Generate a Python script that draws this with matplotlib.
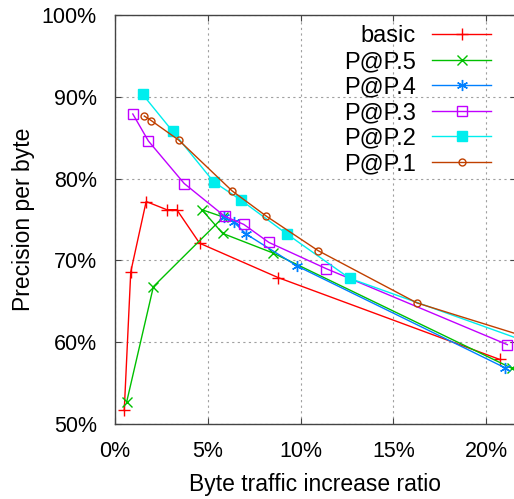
import matplotlib
matplotlib.use('Agg')
import matplotlib.pyplot as plt
from matplotlib.ticker import FuncFormatter

plt.rcParams['font.family'] = ['Liberation Sans', 'DejaVu Sans']

# data (x: byte traffic increase %, y: precision per byte %)
basic_x = [0.50, 0.85, 1.68, 2.79, 3.33, 4.56, 8.79, 20.72]
basic_y = [51.7, 68.6, 77.2, 76.2, 76.2, 72.1, 67.9, 57.9]

pp5_x = [0.63, 2.07, 5.84, 4.68, 5.80, 8.52, 21.39]
pp5_y = [52.7, 66.8, 75.3, 76.2, 73.3, 70.9, 56.8]

pp4_x = [5.85, 6.39, 7.08, 9.82, 20.99]
pp4_y = [75.3, 74.7, 73.2, 69.3, 56.9]

pp3_x = [0.96, 1.80, 3.73, 5.91, 6.94, 8.29, 11.37, 21.14]
pp3_y = [87.9, 84.6, 79.4, 75.4, 74.4, 72.2, 69.0, 59.7]

pp2_x = [1.49, 3.10, 5.32, 6.77, 9.28, 12.65, 22.5]
pp2_y = [90.3, 85.8, 79.6, 77.4, 73.2, 67.8, 59.8]

pp1_x = [1.58, 1.95, 3.44, 6.31, 8.16, 10.94, 16.27, 22.5]
pp1_y = [87.65, 87.1, 84.7, 78.5, 75.4, 71.2, 64.8, 60.4]

x_ticks = [0, 5, 10, 15, 20]
y_ticks = [50, 60, 70, 80, 90, 100]

series = [
    ('basic', basic_x, basic_y, '#ff0000', dict(marker='+', ms=8)),
    ('P@P.5', pp5_x, pp5_y, '#00c000', dict(marker='x', ms=7)),
    ('P@P.4', pp4_x, pp4_y, '#0080ff', dict(marker=(6, 2, 0), ms=8)),
    ('P@P.3', pp3_x, pp3_y, '#c000ff', dict(marker='s', ms=7, mfc='none')),
    ('P@P.2', pp2_x, pp2_y, '#00eeee', dict(marker='s', ms=7)),
    ('P@P.1', pp1_x, pp1_y, '#c04000', dict(marker='o', ms=5, mfc='none')),
]

fig = plt.figure(figsize=(5.14, 4.99), dpi=100)
ax = fig.add_axes([0.2237, 0.1503, 0.78, 0.8196])

for name, xs, ys, col, mk in series:
    ax.plot(xs, ys, color=col, lw=1, label=name, mec=col, mew=1, **mk)

ax.set_xlim(0, 21.6)
ax.set_ylim(50, 100)
ax.set_xticks(x_ticks)
ax.set_yticks(y_ticks)
ax.xaxis.set_major_formatter(FuncFormatter(lambda v, p: '%d%%' % v))
ax.yaxis.set_major_formatter(FuncFormatter(lambda v, p: '%d%%' % v))
ax.grid(True, color='#a0a0a0', ls=(0, (2, 3)), lw=0.8)
ax.tick_params(direction='in', length=4, width=0.8, labelsize=15.5, color='#444444',
               top=True, right=True)
ax.tick_params(axis='y', pad=13)
ax.tick_params(axis='x', pad=12)
for s in ax.spines.values():
    s.set_color('#444444')
    s.set_linewidth(1)

ax.set_xlabel('Byte traffic increase ratio', fontsize=16.5, labelpad=8)
ax.set_ylabel('Precision per byte', fontsize=16.5, labelpad=5)

leg = ax.legend(loc='upper right', bbox_to_anchor=(0.98, 1.015), frameon=False,
                fontsize=17, markerfirst=False, handlelength=2.5,
                labelspacing=0.15, handletextpad=0.7, borderaxespad=0.3)
for t in leg.get_texts():
    t.set_ha('right')
leg._legend_box.align = 'right'

fig.savefig('out.png', dpi=100)
